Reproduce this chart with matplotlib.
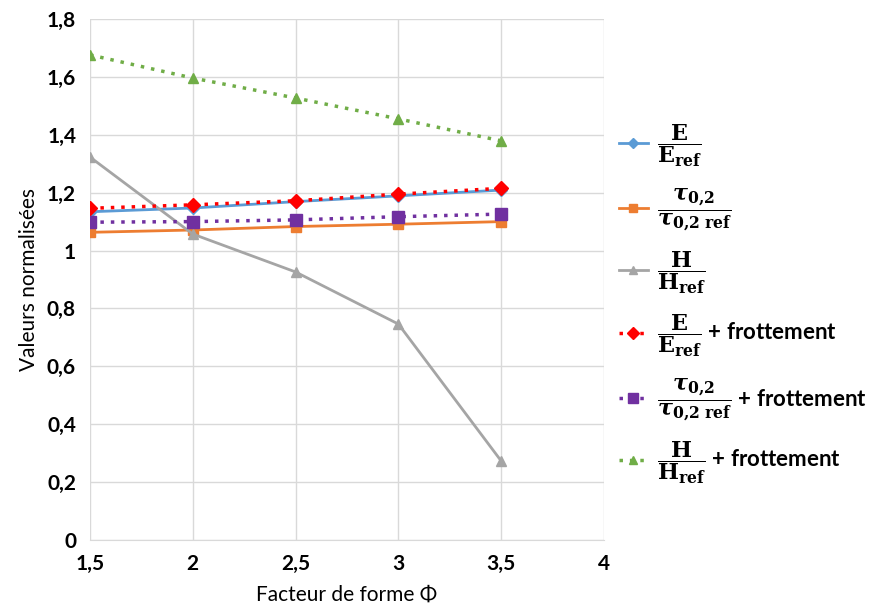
import matplotlib
matplotlib.use("Agg")
import matplotlib.pyplot as plt

plt.rcParams["font.family"] = ["Lato", "DejaVu Sans"]
plt.rcParams["mathtext.fontset"] = "dejavuserif"

# facteur de forme
phi = [1.5, 2, 2.5, 3, 3.5]

E = [1.134, 1.147, 1.169, 1.189, 1.209]
tau = [1.063, 1.071, 1.083, 1.091, 1.100]
H = [1.323, 1.057, 0.926, 0.746, 0.273]
E_frot = [1.146, 1.158, 1.172, 1.195, 1.215]
tau_frot = [1.098, 1.100, 1.106, 1.117, 1.126]
H_frot = [1.676, 1.596, 1.527, 1.455, 1.379]

xticks = [1.5, 2, 2.5, 3, 3.5, 4]
xtick_labels = ["1,5", "2", "2,5", "3", "3,5", "4"]
yticks = [0, 0.2, 0.4, 0.6, 0.8, 1, 1.2, 1.4, 1.6, 1.8]
ytick_labels = ["0", "0,2", "0,4", "0,6", "0,8", "1", "1,2", "1,4", "1,6", "1,8"]

lab_E = r"$\dfrac{\mathbf{E}}{\mathbf{E}_{\mathbf{ref}}}$"
lab_tau = r"$\dfrac{\boldsymbol{\tau}_{\mathbf{0{,}2}}}{\boldsymbol{\tau}_{\mathbf{0{,}2\ ref}}}$"
lab_H = r"$\dfrac{\mathbf{H}}{\mathbf{H}_{\mathbf{ref}}}$"

fig = plt.figure(figsize=(8.77, 6.16), dpi=100)
ax = fig.add_axes([90 / 877, (616 - 540) / 616, (604 - 90) / 877, (540 - 19) / 616])

ax.plot(phi, E, color="#5B9BD5", lw=2, marker="D", ms=6, label=lab_E)
ax.plot(phi, tau, color="#ED7D31", lw=2, marker="s", ms=7, label=lab_tau)
ax.plot(phi, H, color="#A5A5A5", lw=2, marker="^", ms=7, label=lab_H)
ax.plot(phi, E_frot, color="#FF0000", lw=2.5, ls=(0, (1, 2)), marker="D", ms=7,
        label=lab_E + " + frottement")
ax.plot(phi, tau_frot, color="#7030A0", lw=2.5, ls=(0, (1, 2)), marker="s", ms=8,
        label=lab_tau + " + frottement")
ax.plot(phi, H_frot, color="#70AD47", lw=2.5, ls=(0, (1, 2)), marker="^", ms=7,
        label=lab_H + " + frottement")

ax.set_xlim(1.5, 4)
ax.set_ylim(0, 1.8)
ax.set_xticks(xticks)
ax.set_xticklabels(xtick_labels)
ax.set_yticks(yticks)
ax.set_yticklabels(ytick_labels)
ax.tick_params(labelsize=15, length=0, pad=10)
for t in ax.get_xticklabels() + ax.get_yticklabels():
    t.set_fontweight("bold")
ax.grid(True, color="#D9D9D9", lw=1)
ax.set_axisbelow(True)
for s in ["top", "right", "left"]:
    ax.spines[s].set_visible(False)
ax.spines["bottom"].set_color("#D9D9D9")

ax.set_xlabel("Facteur de forme Φ", fontsize=15, labelpad=8)
ax.set_ylabel("Valeurs normalisées", fontsize=15, labelpad=6)

leg = fig.legend(loc="upper left", bbox_to_anchor=(610 / 877, 1 - 114 / 616),
                 frameon=False, handlelength=1.3, labelspacing=0.75,
                 handletextpad=0.4, markerscale=0.85, borderaxespad=0,
                 prop={"weight": "bold", "size": 16})

fig.savefig("out.png", dpi=100)
